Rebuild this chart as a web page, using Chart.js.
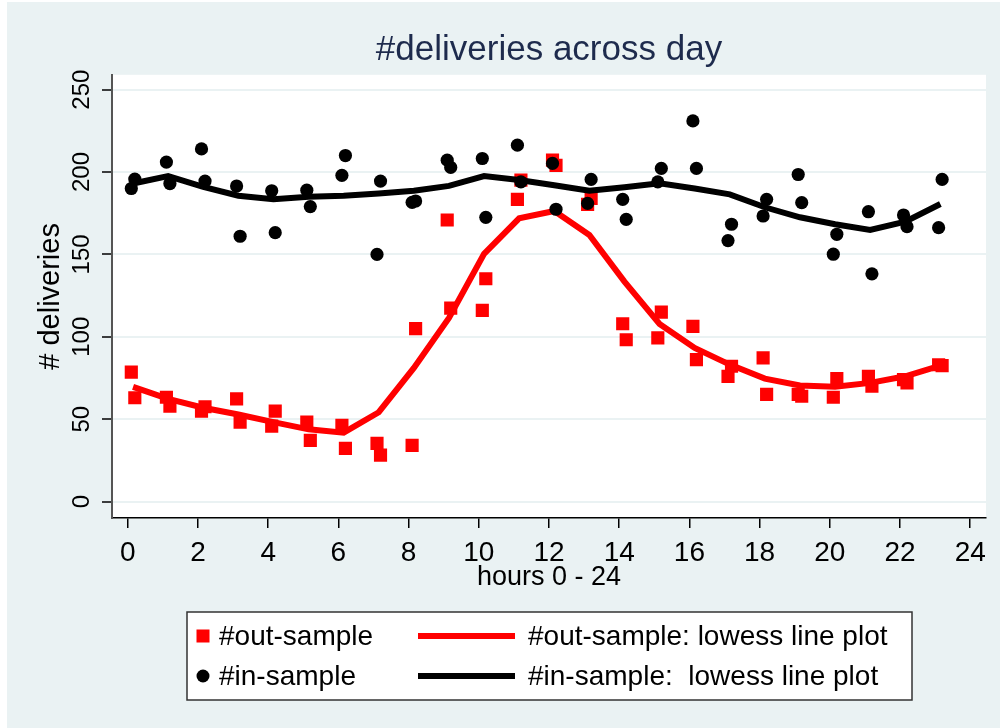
<!DOCTYPE html>
<html>
<head>
<meta charset="utf-8">
<script src="https://cdn.jsdelivr.net/npm/chart.js@4.4.1/dist/chart.umd.min.js"></script>
<style>
  html, body { margin: 0; padding: 0; background: #ffffff; }
  #marco { position: absolute; left: 7px; top: 2px; width: 993px; height: 726px; }
</style>
</head>
<body>
<div id="marco"><canvas id="grafico" width="993" height="726"></canvas></div>
<script>
// horas de cada observacion (dos por hora)
const horasPuntos = [0.1, 0.2, 1.1, 1.2, 2.1, 2.2, 3.1, 3.2, 4.1, 4.2, 5.1, 5.2,
  6.1, 6.2, 7.1, 7.2, 8.1, 8.2, 9.1, 9.2, 10.1, 10.2, 11.1, 11.2,
  12.1, 12.2, 13.1, 13.2, 14.1, 14.2, 15.1, 15.2, 16.1, 16.2, 17.1, 17.2,
  18.1, 18.2, 19.1, 19.2, 20.1, 20.2, 21.1, 21.2, 22.1, 22.2, 23.1, 23.2];

const fueraMuestra = [78.5, 63, 63.3, 57.9, 54.9, 57.5, 62.3, 48.2, 45.8, 54.9, 48.2, 37.1,
  46.2, 32.3, 35.3, 28.2, 34.1, 104.9, 170.9, 117.4, 116, 135.2, 183.4, 195.1,
  207.2, 204, 180.4, 184, 107.9, 98.2, 99.3, 115, 106.3, 86.1, 76, 82.1,
  87.2, 65, 65, 63.9, 63.3, 74.6, 76, 70, 74, 72, 83, 82.5];

const dentroMuestra = [190, 195.7, 206, 193, 214, 194.5, 191.5, 161, 188.6, 163.2, 189, 179,
  198, 210, 150, 194.5, 181.6, 182.4, 207.2, 202.8, 208.2, 172.5, 216.3, 194,
  205.2, 177.4, 181, 195.5, 183.4, 171.3, 194, 202.2, 231, 202.2, 158.4, 168.3,
  173.3, 183.4, 198.5, 181.4, 150.1, 162.2, 175.9, 138.2, 173.9, 166.8, 166.2, 195.5];

// curvas lowess
const horasLowess = [0.15, 1.15, 2.15, 3.15, 4.15, 5.15, 6.15, 7.15, 8.15, 9.15, 10.15, 11.15,
  12.15, 13.15, 14.15, 15.15, 16.15, 17.15, 18.15, 19.15, 20.15, 21.15, 22.15, 23.15];
const lowessFuera = [69.6, 62.3, 56.9, 52.8, 48.2, 43.8, 41.8, 54.2, 81.1, 111.4, 150.3, 171.9,
  176.3, 161.8, 133.5, 107.8, 93.2, 83.1, 74.6, 70.4, 69.6, 72, 76, 82.5];
const lowessDentro = [193, 197.5, 191, 185.6, 183.4, 185, 185.6, 187, 188.6, 191.6, 197.5, 195.1,
  192, 188.6, 190.7, 193.2, 190, 186.4, 178.6, 172.5, 168.3, 164.8, 169.9, 180.6];

const ticksX = [0, 2, 4, 6, 8, 10, 12, 14, 16, 18, 20, 22, 24];
const ticksY = [0, 50, 100, 150, 200, 250];
const titulo = '#deliveries across day';

const fuente = '"Liberation Sans", Arial, sans-serif';
Chart.defaults.font.family = fuente;

function aPuntos(xs, ys) {
  return xs.map((x, i) => ({ x: x, y: ys[i] }));
}

const fondo = {
  id: 'fondo',
  beforeDraw(chart) {
    const { ctx, chartArea: a } = chart;
    ctx.save();
    ctx.fillStyle = '#eaf2f3';
    ctx.fillRect(0, 0, chart.width, chart.height);
    ctx.fillStyle = '#ffffff';
    ctx.fillRect(a.left, a.top, a.right - a.left, a.bottom - a.top);
    ctx.restore();
  }
};

// titulo centrado sobre el area del grafico
const tituloArriba = {
  id: 'tituloArriba',
  afterDraw(chart) {
    const { ctx, chartArea: a } = chart;
    ctx.save();
    ctx.fillStyle = '#1e2b4d';
    ctx.font = '35px ' + fuente;
    ctx.textAlign = 'center';
    ctx.textBaseline = 'middle';
    ctx.fillText(titulo, (a.left + a.right) / 2, 48);
    ctx.restore();
  }
};

// etiquetas del eje y giradas como en Stata
const etiquetasY = {
  id: 'etiquetasY',
  afterDraw(chart) {
    const ctx = chart.ctx;
    const ejeY = chart.scales.y;
    ctx.save();
    ctx.fillStyle = '#000';
    ctx.font = '24px ' + fuente;
    ctx.textAlign = 'center';
    ctx.textBaseline = 'middle';
    ticksY.forEach(v => {
      ctx.save();
      ctx.translate(75, ejeY.getPixelForValue(v));
      ctx.rotate(-Math.PI / 2);
      ctx.fillText(String(v), 0, 0);
      ctx.restore();
    });
    ctx.restore();
  }
};

const leyenda = {
  id: 'leyenda',
  afterDraw(chart) {
    const ctx = chart.ctx;
    const ds = chart.data.datasets;
    ctx.save();
    ctx.fillStyle = '#ffffff';
    ctx.fillRect(180, 610, 725, 88);
    ctx.strokeStyle = '#333';
    ctx.lineWidth = 1.5;
    ctx.strokeRect(180, 610, 725, 88);
    ctx.font = '28px ' + fuente;
    ctx.textBaseline = 'middle';
    ctx.textAlign = 'left';
    const filas = [634, 674];
    // columna 1: marcadores
    [ds[3], ds[1]].forEach((d, i) => {
      const y = filas[i];
      ctx.fillStyle = d.backgroundColor;
      if (d.pointStyle === 'rect') {
        ctx.fillRect(196 - 6.5, y - 6.5, 13, 13);
      } else {
        ctx.beginPath();
        ctx.arc(196, y, 6.5, 0, Math.PI * 2);
        ctx.fill();
      }
      ctx.fillStyle = '#000';
      ctx.fillText(d.label, 212, y + 1);
    });
    // columna 2: lineas lowess
    [ds[2], ds[0]].forEach((d, i) => {
      const y = filas[i];
      ctx.strokeStyle = d.borderColor;
      ctx.lineWidth = 6;
      ctx.beginPath();
      ctx.moveTo(411, y);
      ctx.lineTo(508, y);
      ctx.stroke();
      ctx.fillStyle = '#000';
      ctx.fillText(d.label, 521, y + 1);
    });
    ctx.restore();
  }
};

const ctx = document.getElementById('grafico').getContext('2d');
const grafico = new Chart(ctx, {
  type: 'scatter',
  data: {
    datasets: [
      {
        label: '#in-sample:  lowess line plot',
        data: aPuntos(horasLowess, lowessDentro),
        showLine: true,
        borderColor: '#000000',
        backgroundColor: '#000000',
        borderWidth: 6,
        pointRadius: 0,
        tension: 0
      },
      {
        label: '#in-sample',
        data: aPuntos(horasPuntos, dentroMuestra),
        pointStyle: 'circle',
        pointRadius: 6.6,
        pointBorderWidth: 0,
        backgroundColor: '#000000',
        borderColor: '#000000'
      },
      {
        label: '#out-sample: lowess line plot',
        data: aPuntos(horasLowess, lowessFuera),
        showLine: true,
        borderColor: '#ff0000',
        backgroundColor: '#ff0000',
        borderWidth: 6,
        pointRadius: 0,
        tension: 0
      },
      {
        label: '#out-sample',
        data: aPuntos(horasPuntos, fueraMuestra),
        pointStyle: 'rect',
        pointRadius: 9.3,
        pointBorderWidth: 0,
        backgroundColor: '#ff0000',
        borderColor: '#ff0000'
      }
    ]
  },
  options: {
    responsive: false,
    animation: false,
    events: [],
    layout: { padding: { left: 0, right: 14, top: 72.8, bottom: 0 } },
    plugins: {
      legend: { display: false },
      tooltip: { enabled: false },
      title: { display: false }
    },
    scales: {
      x: {
        type: 'linear',
        min: -0.45,
        max: 24.45,
        afterBuildTicks: s => { s.ticks = ticksX.map(v => ({ value: v })); },
        afterFit: s => { s.height = 210; },
        grid: { drawOnChartArea: false, drawTicks: true, tickLength: 10, tickColor: '#000', lineWidth: 1.5 },
        border: { color: '#000', width: 1.5 },
        ticks: { color: '#000', font: { size: 28 }, padding: 8, maxRotation: 0, autoSkip: false },
        title: { display: true, text: 'hours 0 - 24', color: '#000', font: { size: 27 }, padding: { top: 0, bottom: 134 } }
      },
      y: {
        type: 'linear',
        min: -10,
        max: 259,
        afterBuildTicks: s => { s.ticks = ticksY.map(v => ({ value: v })); },
        afterFit: s => { s.width = 105; },
        grid: { color: '#eaf2f3', lineWidth: 2, tickLength: 10, tickColor: '#000', tickWidth: 1.5 },
        border: { color: '#555', width: 2 },
        ticks: { display: false },
        title: { display: true, text: '# deliveries', color: '#000', font: { size: 29 }, padding: { top: 27, bottom: 0 } }
      }
    }
  },
  plugins: [fondo, tituloArriba, etiquetasY, leyenda]
});
</script>
</body>
</html>
